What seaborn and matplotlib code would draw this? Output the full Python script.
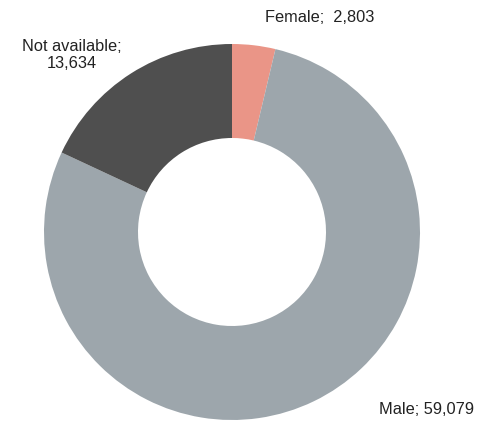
import matplotlib
import matplotlib.pyplot as plt
import seaborn as sns

matplotlib.use("Agg")

categories = ['Female', 'Male', 'Not available']
counts = [2803, 59079, 13634]
colors = ['#EA9587', '#9DA6AC', '#4F4F4F']

sns.set_theme(style='white')
plt.rcParams['font.family'] = ['Liberation Sans', 'DejaVu Sans']

W, H = 478, 422
fig = plt.figure(figsize=(W / 100, H / 100), dpi=100)
cx, cy, r = 232, 232, 188
ax = fig.add_axes([(cx - r) / W, (H - cy - r) / H, 2 * r / W, 2 * r / H])
ax.pie(counts, colors=colors, startangle=90, counterclock=False,
       wedgeprops=dict(width=0.5, linewidth=0), radius=1)
ax.set_xlim(-1, 1)
ax.set_ylim(-1, 1)
ax.set_axis_off()

fs = 11.8
fig.text(320 / W, 1 - 18 / H, f'{categories[0]};  {counts[0]:,}', ha='center', va='center',
         fontsize=fs, color='#222222')
fig.text(72 / W, 1 - 55 / H, f'{categories[2]};\n{counts[2]:,}', ha='center', va='center',
         fontsize=fs, color='#222222', linespacing=1.15)
fig.text(474 / W, 1 - 409 / H, f'{categories[1]}; {counts[1]:,}', ha='right', va='center',
         fontsize=fs, color='#222222')

fig.savefig('out.png', dpi=100)
